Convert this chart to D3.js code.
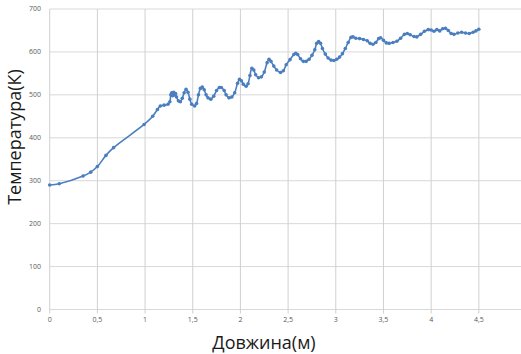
<!DOCTYPE html>
<html>
<head>
<meta charset="utf-8">
<script src="https://cdn.jsdelivr.net/npm/d3@7"></script>
<style>
  html, body { margin: 0; padding: 0; background: #fff; }
  svg { display: block; font-family: "Open Sans", "Liberation Sans", sans-serif; }
</style>
</head>
<body>
<svg id="chart" width="521" height="354"></svg>
<script>
// довжина (м)
const lengthM = [0, 0.1, 0.35, 0.43, 0.5, 0.59, 0.67, 0.99, 1.08, 1.13, 1.16, 1.2, 1.24,
  1.26, 1.27, 1.28, 1.29, 1.3, 1.31, 1.32, 1.33, 1.35, 1.37, 1.39, 1.41, 1.43, 1.45, 1.47, 1.49,
  1.52, 1.54, 1.56, 1.58, 1.6, 1.62, 1.64, 1.66, 1.69, 1.72, 1.75, 1.78, 1.8, 1.83, 1.85, 1.88,
  1.91, 1.94, 1.97, 1.99, 2.01, 2.03, 2.06, 2.08, 2.1, 2.12, 2.14, 2.16, 2.19, 2.22, 2.25, 2.28,
  2.3, 2.32, 2.35, 2.38, 2.42, 2.45, 2.48, 2.52, 2.56, 2.58, 2.6, 2.63, 2.66, 2.69, 2.72, 2.75,
  2.78, 2.8, 2.82, 2.84, 2.86, 2.89, 2.92, 2.95, 2.98, 3.01, 3.04, 3.07, 3.1, 3.13, 3.16, 3.18,
  3.21, 3.25, 3.29, 3.33, 3.36, 3.39, 3.42, 3.45, 3.47, 3.5, 3.53, 3.56, 3.6, 3.64, 3.68, 3.72,
  3.75, 3.78, 3.82, 3.85, 3.89, 3.93, 3.97, 4.0, 4.03, 4.06, 4.09, 4.12, 4.15, 4.18, 4.21, 4.24,
  4.28, 4.32, 4.36, 4.4, 4.44, 4.47, 4.5];
// температура (К)
const tempK = [290, 293, 311, 320, 333, 359, 377, 431, 450, 466, 474, 476, 478,
  484, 500, 505, 498, 506, 500, 503, 495, 486, 484, 492, 505, 513, 506, 490, 478,
  474, 480, 500, 515, 518, 512, 500, 493, 490, 497, 510, 517, 517, 510, 500, 493,
  495, 505, 527, 536, 533, 525, 520, 526, 545, 562, 558, 547, 540, 542, 553, 575,
  583, 578, 567, 558, 552, 556, 570, 582, 594, 597, 594, 584, 578, 578, 583, 592,
  605, 620, 624, 620, 608, 595, 586, 581, 580, 583, 588, 596, 608, 622, 634, 635,
  632, 631, 629, 626, 620, 618, 622, 631, 633, 627, 621, 620, 622, 625, 632, 641,
  643, 640, 636, 635, 641, 648, 652, 651, 648, 652, 649, 654, 655, 650, 643, 641,
  644, 646, 644, 643, 646, 649, 653];

const xTicks = [0, 0.5, 1, 1.5, 2, 2.5, 3, 3.5, 4, 4.5];
const yTicks = [0, 100, 200, 300, 400, 500, 600, 700];

const points = lengthM.map((d, i) => ({ x: d, y: tempK[i] }));

const svg = d3.select('#chart');
const x = d3.scaleLinear().domain([0, 5]).range([49.7, 526.5]);
const y = d3.scaleLinear().domain([0, 700]).range([309.5, 9]);
const fmt = d => String(d).replace('.', ',');

// сітка
svg.append('g').selectAll('line').data(yTicks).enter().append('line')
  .attr('x1', x(0)).attr('x2', 521).attr('y1', d => y(d)).attr('y2', d => y(d))
  .attr('stroke', '#d9d9d9').attr('stroke-width', 1);
svg.append('g').selectAll('line').data(xTicks).enter().append('line')
  .attr('x1', d => x(d)).attr('x2', d => x(d)).attr('y1', y(700)).attr('y2', y(0) + 4)
  .attr('stroke', '#d0d0d0').attr('stroke-width', 1);

// підписи осей
svg.append('g').selectAll('text').data(yTicks).enter().append('text')
  .attr('x', 41).attr('y', d => y(d)).attr('dy', '0.35em')
  .attr('text-anchor', 'end').attr('font-size', 7).attr('fill', '#595959').text(d => d);
svg.append('g').selectAll('text').data(xTicks).enter().append('text')
  .attr('x', d => x(d)).attr('y', 321.5)
  .attr('text-anchor', 'middle').attr('font-size', 7).attr('fill', '#595959').text(fmt);

svg.append('text').attr('transform', 'translate(21,137) rotate(-90)')
  .attr('text-anchor', 'middle').attr('font-size', 18).attr('fill', '#1a1a1a').text('Температура(К)');
svg.append('text').attr('x', 264).attr('y', 349)
  .attr('text-anchor', 'middle').attr('font-size', 18).attr('fill', '#1a1a1a').text('Довжина(м)');

// лінія
const line = d3.line().x(d => x(d.x)).y(d => y(d.y)).curve(d3.curveCatmullRom.alpha(0.5));
svg.append('path').datum(points).attr('d', line)
  .attr('fill', 'none').attr('stroke', '#4a7ebf').attr('stroke-width', 1.6);
svg.append('g').selectAll('circle').data(points).enter().append('circle')
  .attr('cx', d => x(d.x)).attr('cy', d => y(d.y)).attr('r', 1.8).attr('fill', '#4a7ebf');
</script>
</body>
</html>
